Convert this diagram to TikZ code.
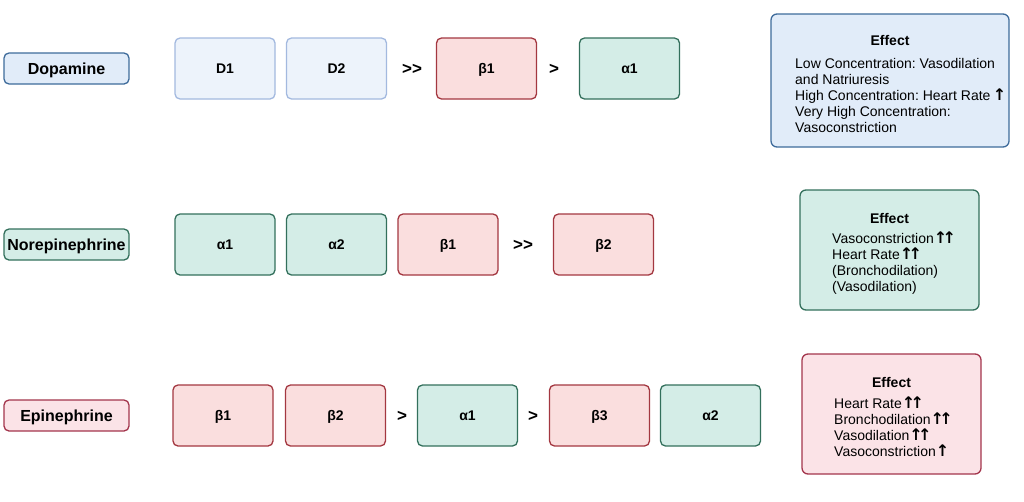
\documentclass[tikz,border=0pt]{standalone}
\usepackage{fontspec}
\setmainfont{Liberation Sans}
\newfontfamily\arrfont{DejaVu Sans}
\frenchspacing
\newcommand{\up}{\raisebox{-0.5pt}{\arrfont\bfseries\fontsize{16}{16}\selectfont\char"2191}}
\newcommand{\upup}{\raisebox{-0.5pt}{\arrfont\bfseries\fontsize{16}{16}\selectfont\char"2191\kern-0.3em\char"2191}}
\definecolor{bfill}{HTML}{E1ECF9}
\definecolor{bdraw}{HTML}{3E6B9B}
\definecolor{lbfill}{HTML}{EDF3FB}
\definecolor{lbdraw}{HTML}{A3B9DF}
\definecolor{rfill}{HTML}{FADEDE}
\definecolor{rdraw}{HTML}{A33740}
\definecolor{gfill}{HTML}{D4EDE7}
\definecolor{gdraw}{HTML}{33705C}
\definecolor{pfill}{HTML}{FBE3E7}
\definecolor{pdraw}{HTML}{A3354C}
\begin{document}
\begin{tikzpicture}[x=1pt,y=-1pt,
  base/.style={rounded corners=5pt, line width=1.3pt, inner sep=0pt},
  rec/.style={base, minimum width=100pt, minimum height=61pt, font=\fontsize{14}{16}\selectfont\bfseries, text height=10pt, text depth=0pt},
  lab/.style={base, minimum width=125pt, minimum height=31pt, font=\fontsize{16}{18}\selectfont\bfseries, text height=11.5pt, text depth=0pt},
  rbox/.style={rec, fill=rfill, draw=rdraw},
  gbox/.style={rec, fill=gfill, draw=gdraw},
  dbox/.style={rec, fill=lbfill, draw=lbdraw},
  cmp/.style={font=\fontsize{17}{18}\selectfont\bfseries, inner sep=0pt, text height=10pt, text depth=0pt},
  eff/.style={rounded corners=6pt, line width=1.3pt, inner sep=0pt},
  etitle/.style={font=\fontsize{14}{15}\selectfont\bfseries, inner sep=0pt},
  ebody/.style={font=\fontsize{14}{16}\selectfont, align=left, inner sep=0pt, anchor=north west},
]
\useasboundingbox (0,0) rectangle (1024,501);
% Row 1
\node[lab, fill=bfill, draw=bdraw] (dop) at (66.5,68.5) {Dopamine};
\node[dbox] (d1) at (225,68.5) {D1};
\node[dbox] (d2) at (336.5,68.5) {D2};
\node[cmp] (c1) at (412,69) {>{}>};
\node[rbox] (db1) at (486.5,68.5) {β1};
\node[cmp] (c2) at (554,69) {>};
\node[gbox] (da1) at (629.5,68.5) {α1};
\node[eff, fill=bfill, draw=bdraw, minimum width=238pt, minimum height=133pt] (e1) at (890,80.5) {};
\node[etitle] (e1t) at (890,40) {Effect};
\node[ebody] (e1b) at (795,58) {Low Concentration: Vasodilation\\and Natriuresis\\High Concentration: Heart Rate\,\up\\Very High Concentration:\\Vasoconstriction};
% Row 2
\node[lab, fill=gfill, draw=gdraw] (nor) at (66.5,244.5) {Norepinephrine};
\node[gbox] (na1) at (225,244.5) {α1};
\node[gbox] (na2) at (336.5,244.5) {α2};
\node[rbox] (nb1) at (448,244.5) {β1};
\node[cmp] (c3) at (523,245) {>{}>};
\node[rbox] (nb2) at (603.5,244.5) {β2};
\node[eff, fill=gfill, draw=gdraw, minimum width=179pt, minimum height=120pt] (e2) at (889.5,250) {};
\node[etitle] (e2t) at (889.5,218) {Effect};
\node[ebody] (e2b) at (832,232) {Vasoconstriction\upup\\Heart Rate\upup\\(Bronchodilation)\\(Vasodilation)};
% Row 3
\node[lab, fill=pfill, draw=pdraw] (epi) at (66.5,415.5) {Epinephrine};
\node[rbox] (eb1) at (223,415.5) {β1};
\node[rbox] (eb2) at (335.5,415.5) {β2};
\node[cmp] (c4) at (402,416) {>};
\node[gbox] (ea1) at (467.5,415.5) {α1};
\node[cmp] (c5) at (533,416) {>};
\node[rbox] (eb3) at (599.5,415.5) {β3};
\node[gbox] (ea2) at (710.5,415.5) {α2};
\node[eff, fill=pfill, draw=pdraw, minimum width=179pt, minimum height=120pt] (e3) at (891.5,414) {};
\node[etitle] (e3t) at (891.5,382) {Effect};
\node[ebody] (e3b) at (834,397) {Heart Rate\upup\\Bronchodilation\upup\\Vasodilation\upup\\Vasoconstriction\up};
\end{tikzpicture}
\end{document}
